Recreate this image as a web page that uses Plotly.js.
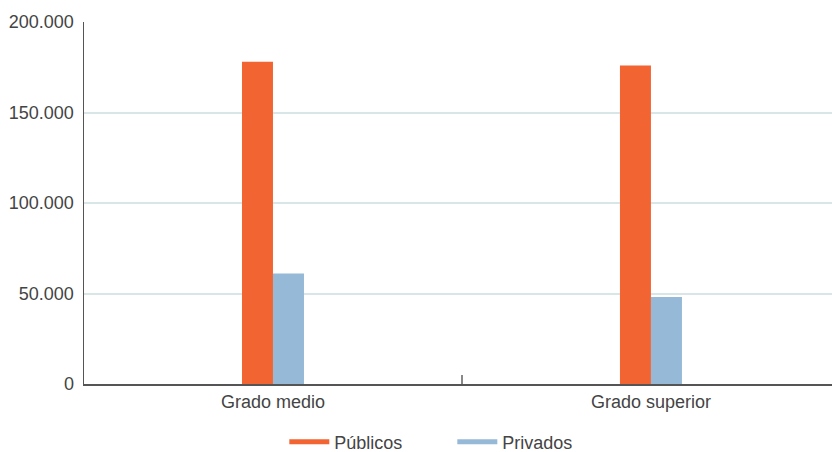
<!DOCTYPE html>
<html>
<head>
<meta charset="utf-8">
<script src="https://cdn.plot.ly/plotly-3.0.1.min.js"></script>
<style>html,body{margin:0;padding:0;background:#fff;}#chart{width:833px;height:452px;}</style>
</head>
<body>
<div id="chart"></div>
<script>
const categories = ["Grado medio", "Grado superior"];
const seriesNames = ["Públicos", "Privados"];
const publicos = [178000, 176000];
const privados = [61000, 48000];
const colors = ["#f26532", "#95b9d7"];

const font = "Liberation Sans, Arial, Helvetica, sans-serif";
const textColor = "#444";

const traces = [
  {type: "bar", x: categories, y: publicos, name: seriesNames[0], marker: {color: colors[0]}, showlegend: false, hoverinfo: "none"},
  {type: "bar", x: categories, y: privados, name: seriesNames[1], marker: {color: colors[1]}, showlegend: false, hoverinfo: "none"},
  {type: "scatter", mode: "lines", x: [null], y: [null], name: seriesNames[0], line: {color: colors[0], width: 5}},
  {type: "scatter", mode: "lines", x: [null], y: [null], name: seriesNames[1], line: {color: colors[1], width: 5}}
];

const layout = {
  width: 833, height: 452,
  margin: {l: 84, r: 1, t: 22, b: 68},
  paper_bgcolor: "#fff", plot_bgcolor: "#fff",
  font: {family: font, size: 18, color: textColor},
  separators: ",.",
  barmode: "group",
  bargap: 0.836,
  bargroupgap: 0,
  showlegend: true,
  legend: {orientation: "h", x: 0.543, xanchor: "center", xref: "container",
           y: 0.022, yanchor: "middle", yref: "container",
           itemwidth: 40,
           font: {family: font, size: 18, color: textColor}, entrywidth: 113, entrywidthmode: "pixels"},
  xaxis: {
    type: "category",
    range: [-0.5, 1.479],
    automargin: false,
    showline: true, linecolor: "#555", linewidth: 2,
    showgrid: false, zeroline: false,
    ticks: "inside", tickson: "boundaries", ticklen: 9, tickwidth: 1.5, tickcolor: "#888",
    tickfont: {family: font, size: 18, color: textColor}
  },
  yaxis: {
    range: [0, 200000],
    automargin: false,
    tickvals: [0, 50000, 100000, 150000, 200000],
    tickformat: ",d",
    showline: true, linecolor: "#555", linewidth: 1.5,
    showgrid: true, gridcolor: "#d9e6e8", gridwidth: 2,
    zeroline: false,
    ticks: "outside", ticklen: 5, tickcolor: "rgba(0,0,0,0)",
    tickfont: {family: font, size: 18, color: textColor}
  }
};

Plotly.newPlot("chart", traces, layout, {displayModeBar: false, staticPlot: true});
</script>
</body>
</html>
